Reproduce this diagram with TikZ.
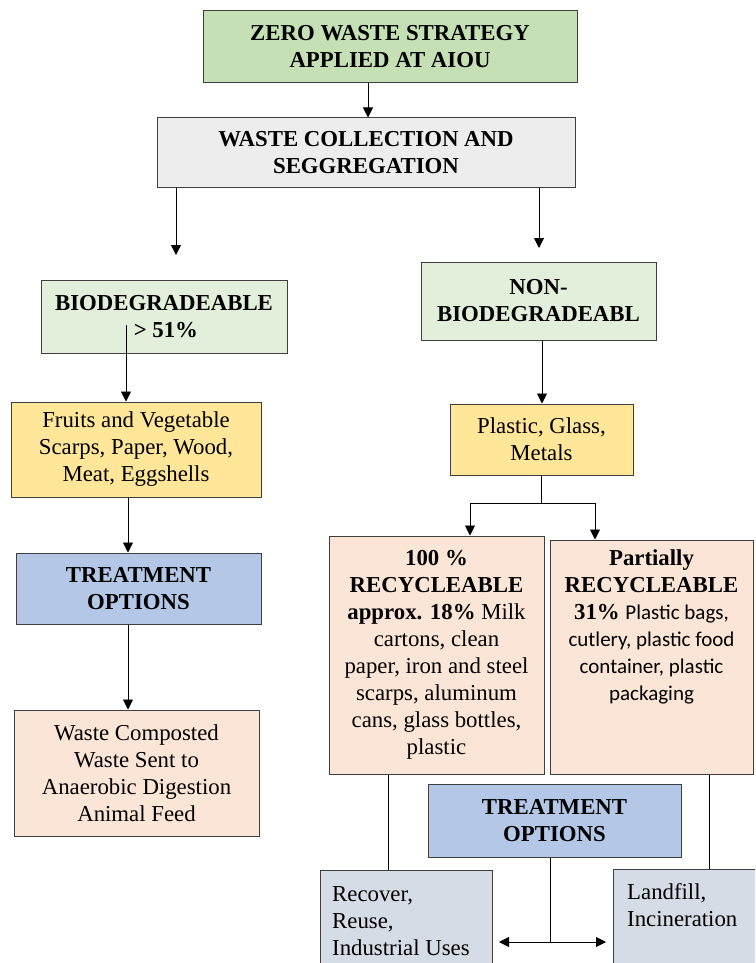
\documentclass[tikz,border=0pt]{standalone}
\usepackage{fontspec}
\setmainfont{Liberation Serif}
\newfontfamily\calib{Carlito}
\usetikzlibrary{arrows.meta}
\definecolor{cTop}{HTML}{C5E0B4}
\definecolor{cColl}{HTML}{EDEDED}
\definecolor{cBio}{HTML}{E2EFDA}
\definecolor{cYel}{HTML}{FFE699}
\definecolor{cTreat}{HTML}{B4C7E7}
\definecolor{cPeach}{HTML}{FBE5D6}
\definecolor{cGray}{HTML}{D6DCE5}
\definecolor{cBorder}{HTML}{3F3F3F}
\tikzset{
  box/.style={draw=cBorder, line width=1pt, inner sep=0pt, align=center,
    font=\fontsize{22.8pt}{27pt}\selectfont, text=black},
  txt/.style={inner sep=0pt, font=\fontsize{22.8pt}{27pt}\selectfont, text=black},
  conn/.style={line width=0.9pt, draw=black},
  arr/.style={conn, -{Triangle[width=10pt,length=10pt]}},
  arrtwo/.style={conn, {Triangle[width=10pt,length=10pt]}-{Triangle[width=10pt,length=10pt]}}
}
\begin{document}
\begin{tikzpicture}[x=1pt,y=-1pt]
\useasboundingbox (0,0) rectangle (755,963);
\clip (0,0) rectangle (755,963);
\fill[white] (0,0) rectangle (755,963);

% boxes
\node[box, fill=cTop, minimum width=374pt, minimum height=72pt] (top) at (390,47)
  {\bfseries ZERO WASTE STRATEGY\\\bfseries APPLIED AT AIOU};
\node[box, fill=cColl, minimum width=418pt, minimum height=69pt] (coll) at (366,152.5)
  {\bfseries WASTE COLLECTION AND\\\bfseries SEGGREGATION};
\node[box, fill=cBio, minimum width=246pt, minimum height=73pt] (bio) at (164,316.5)
  {\bfseries BIODEGRADEABLE\\\bfseries \,> 51\%};
\node[box, fill=cBio, minimum width=235pt, minimum height=78pt] (nonbio) at (538.5,301)
  {\bfseries NON-\\\bfseries BIODEGRADEABL};
\node[box, fill=cYel, minimum width=250pt, minimum height=95pt] (fruits) at (136,449.5)
  {Fruits and Vegetable\\Scarps, Paper, Wood,\\Meat, Eggshells};
\node[box, fill=cYel, minimum width=183pt, minimum height=71pt] (plastic) at (541.5,439.5)
  {Plastic, Glass,\\Metals};
\node[box, fill=cTreat, minimum width=245pt, minimum height=71pt] (treatL) at (138.5,588.5)
  {\bfseries TREATMENT\\\bfseries OPTIONS};
\node[box, fill=cPeach, minimum width=245pt, minimum height=126pt] (waste) at (136.5,773)
  {Waste Composted\\Waste Sent to\\Anaerobic Digestion\\Animal Feed};
\node[box, fill=cPeach, minimum width=215pt, minimum height=238pt] (rec100) at (436.5,655)
  {\bfseries 100 \%\\\bfseries RECYCLEABLE\\\textbf{approx. 18\%} Milk\\cartons, clean\\paper, iron and steel\\scarps, aluminum\\cans, glass bottles,\\plastic};
\node[box, fill=cPeach, minimum width=203pt, minimum height=234pt] (partial) at (651.5,657) {};
\node[txt, align=center, anchor=north] (partialtxt) at ([yshift=-10pt]partial.north)
  {\bfseries Partially\\\bfseries RECYCLEABLE\\\textbf{31\%} {\calib\fontsize{21pt}{27pt}\selectfont Plastic bags,}\\{\calib\fontsize{21pt}{27pt}\selectfont cutlery, plastic food}\\{\calib\fontsize{21pt}{27pt}\selectfont container, plastic}\\{\calib\fontsize{21pt}{27pt}\selectfont packaging}};
\node[box, fill=cTreat, minimum width=253pt, minimum height=73pt] (treatR) at (554.5,820.5)
  {\bfseries TREATMENT\\\bfseries OPTIONS};
\node[box, fill=cGray, minimum width=172pt, minimum height=120pt] (recover) at (406,930) {};
\node[txt, align=left, anchor=north west] (recovertxt) at (332,886)
  {Recover,\\Reuse,\\Industrial Uses};
\node[box, fill=cGray, minimum width=177pt, minimum height=121pt] (landfill) at (701.5,929.5) {};
\node[txt, align=left, anchor=north west] (landfilltxt) at (627,883)
  {Landfill,\\Incineration};

% connectors
\draw[arr] ([xshift=-22pt]top.south) -- ([xshift=-22pt]top.south |- coll.north);
\coordinate (bioIn) at (176,255);
\draw[arr] (coll.south -| bioIn) -- (bioIn);
\coordinate (nbIn) at (539,248);
\draw[arr] (coll.south -| nbIn) -- (nbIn);
\coordinate (bioOut) at (126,325);
\draw[arr] (bioOut) -- (bioOut |- fruits.north);
\draw[arr] ([xshift=-8pt]fruits.south) -- ([xshift=-8pt]fruits.south |- treatL.north);
\draw[arr] ([xshift=-10.5pt]treatL.south) -- ([xshift=-10.5pt]treatL.south |- waste.north);
\draw[arr] ([xshift=3.5pt]nonbio.south) -- ([xshift=3.5pt]nonbio.south |- plastic.north);
\coordinate (sp) at (541,503);
\draw[conn] (plastic.south -| sp) -- (sp);
\draw[arr] (sp) -| ([xshift=33.5pt]rec100.north);
\draw[arr] (sp) -| ([xshift=-56.5pt]partial.north);
\draw[conn] ([xshift=-48.5pt]rec100.south) -- ([xshift=-48.5pt]rec100.south |- recover.north);
\draw[conn] ([xshift=57.5pt]partial.south) -- ([xshift=57.5pt]partial.south |- landfill.north);
\coordinate (mid) at (550,942);
\draw[conn] (treatR.south -| mid) -- (mid);
\coordinate (la) at (499,942);
\coordinate (ra) at (606,942);
\draw[arrtwo] (la) -- (ra);
\end{tikzpicture}
\end{document}
